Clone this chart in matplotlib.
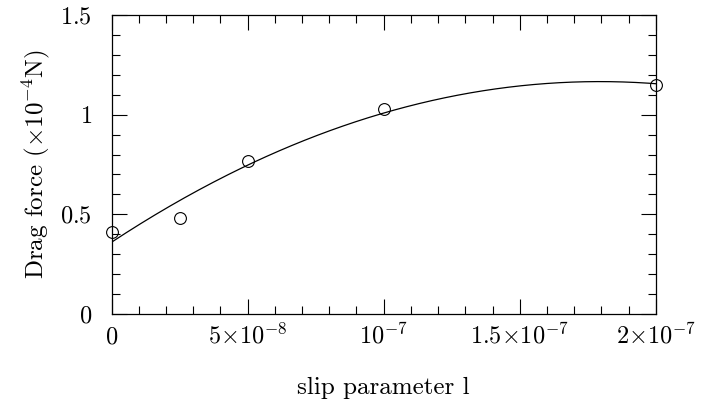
import numpy as np
import matplotlib
matplotlib.use('Agg')
import matplotlib.pyplot as plt
from matplotlib.ticker import MultipleLocator

# measured drag force vs slip parameter
slip = [0.0, 2.5e-8, 5e-8, 1e-7, 2e-7]
drag = [0.41, 0.48, 0.77, 1.03, 1.15]

x_ticks = [0, 5e-8, 1e-7, 1.5e-7, 2e-7]
x_tick_labels = [r'$0$', r'$5{\times}10^{-8}$', r'$10^{-7}$',
                 r'$1.5{\times}10^{-7}$', r'$2{\times}10^{-7}$']
y_ticks = [0, 0.5, 1, 1.5]
y_tick_labels = [r'$0$', r'$0.5$', r'$1$', r'$1.5$']

plt.rcParams['font.family'] = 'cmr10'
plt.rcParams['mathtext.fontset'] = 'cm'
plt.rcParams['axes.unicode_minus'] = False

fig = plt.figure(figsize=(7.06, 4.07), dpi=100)
ax = fig.add_axes([0.158, 0.2285, 0.771, 0.7345])

# quadratic least-squares fit through the measurements
coef = np.polyfit(np.array(slip) * 1e8, drag, 2)
xs = np.linspace(0, 2e-7, 300)
ax.plot(xs, np.polyval(coef, xs * 1e8), color='black', lw=0.9)

ax.plot(slip, drag, 'o', mfc='none', mec='black', ms=8.5, mew=0.8, clip_on=False)

ax.set_xlim(0, 2e-7)
ax.set_ylim(0, 1.5)
ax.set_xticks(x_ticks, x_tick_labels)
ax.set_yticks(y_ticks, y_tick_labels)
ax.xaxis.set_minor_locator(MultipleLocator(1e-8))
ax.yaxis.set_minor_locator(MultipleLocator(0.1))

ax.tick_params(which='both', direction='in', top=True, right=True,
               width=0.8, labelsize=17.5)
ax.tick_params(which='major', length=11)
ax.tick_params(which='minor', length=6)
ax.tick_params(axis='x', pad=21)
ax.tick_params(axis='y', pad=14)
plt.setp(ax.get_xticklabels(), va='baseline')
for s in ax.spines.values():
    s.set_linewidth(0.9)

ax.set_xlabel('slip parameter l', fontsize=18, labelpad=21)
ax.set_ylabel(r'Drag force ($\times10^{-4}$N)', fontsize=18, labelpad=6)

fig.savefig('out.png', dpi=100)
